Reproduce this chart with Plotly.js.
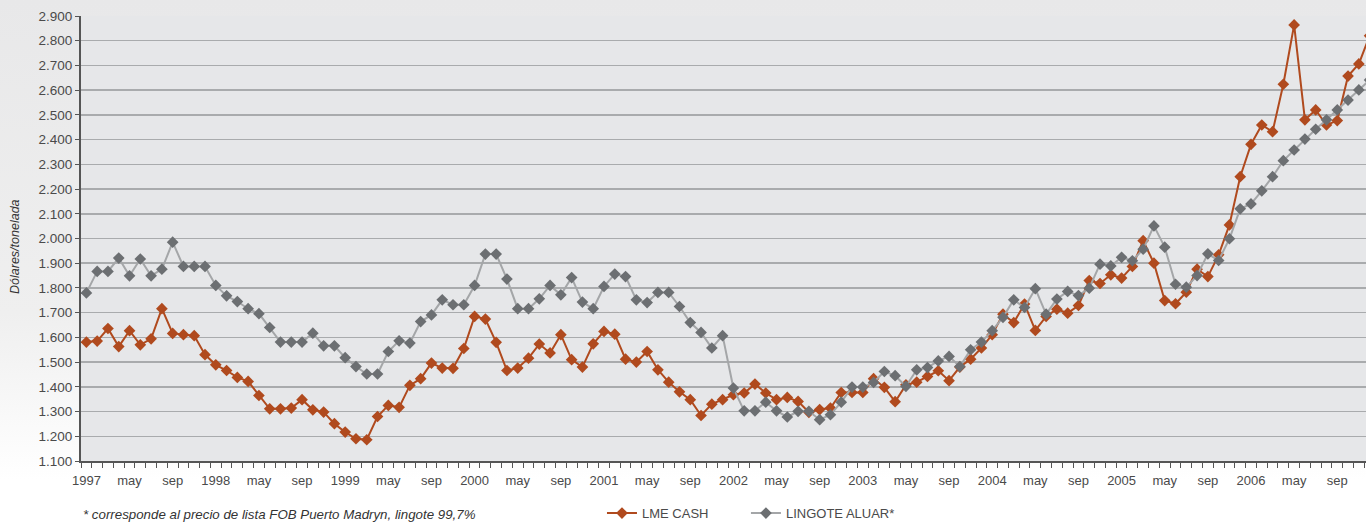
<!DOCTYPE html>
<html>
<head>
<meta charset="utf-8">
<script src="https://cdn.plot.ly/plotly-3.0.1.min.js"></script>
<style>
  html, body { margin: 0; padding: 0; width: 1366px; height: 522px; overflow: hidden;
    background: linear-gradient(to bottom, #e8e8e9 0%, #efefef 60%, #ffffff 92%); }
  #chart { width: 1375px; height: 522px; }
</style>
</head>
<body>
<div id="chart"></div>
<script>
// Months Jan 1997 .. Dec 2006
const years = [1997, 1998, 1999, 2000, 2001, 2002, 2003, 2004, 2005, 2006];
const monthNames = ["ene","feb","mar","abr","may","jun","jul","ago","sep","oct","nov","dic"];
const labeledMonths = ["may", "sep"];

// LME CASH (USD/t)
const lmeCash = [
  1581, 1585, 1636, 1563, 1627, 1570, 1594, 1716, 1616, 1611, 1607, 1530,
  1489, 1466, 1438, 1422, 1365, 1311, 1311, 1314, 1348, 1307, 1298, 1251,
  1217, 1190, 1186, 1280, 1325, 1317, 1406, 1433, 1496, 1476, 1475, 1555,
  1685, 1674, 1580, 1466, 1476, 1516, 1573, 1537, 1611, 1510, 1480, 1574,
  1624, 1613, 1512, 1500, 1543, 1469, 1419, 1380, 1348, 1284, 1330, 1348,
  1368, 1375, 1411, 1375, 1348, 1357, 1341, 1297, 1308, 1314, 1377, 1377,
  1377, 1433, 1398, 1340, 1408, 1419, 1442, 1465, 1425, 1480, 1512, 1557,
  1611, 1694, 1660, 1735, 1628, 1685, 1714, 1698, 1729, 1830, 1818, 1853,
  1840, 1887, 1991, 1900, 1749, 1736, 1783, 1876, 1846, 1934, 2055, 2250,
  2381, 2459, 2432, 2624, 2864, 2480, 2520, 2459, 2477, 2657, 2706, 2820
];

// LINGOTE ALUAR* (USD/t)
const lingoteAluar = [
  1780, 1867, 1867, 1921, 1849, 1917, 1849, 1876, 1985, 1887, 1887, 1887,
  1810, 1768, 1745, 1716, 1696, 1640, 1581, 1581, 1581, 1617, 1566, 1566,
  1518, 1482, 1452, 1452, 1543, 1586, 1577, 1664, 1691, 1752, 1732, 1732,
  1810, 1937, 1937, 1836, 1716, 1716, 1756, 1810, 1772, 1842, 1743, 1716,
  1806, 1856, 1846, 1752, 1741, 1782, 1782, 1725, 1660, 1620, 1557, 1607,
  1395, 1303, 1303, 1338, 1303, 1278, 1301, 1301, 1267, 1287, 1338, 1399,
  1399, 1418, 1462, 1445, 1402, 1469, 1478, 1505, 1523, 1482, 1550, 1581,
  1627, 1681, 1752, 1721, 1797, 1694, 1755, 1786, 1769, 1799, 1896, 1889,
  1924, 1910, 1957, 2051, 1965, 1815, 1803, 1850, 1938, 1911, 1999, 2120,
  2140, 2193, 2250, 2315, 2358, 2402, 2442, 2480, 2520, 2560, 2601, 2641
];

// Build month index and tick labels from the arrays above
const idx = [], hoverLabels = [], tickVals = [], tickText = [];
years.forEach((y, yi) => {
  monthNames.forEach((m, mi) => {
    const k = yi * 12 + mi;
    idx.push(k);
    hoverLabels.push(m + " " + y);
    if (mi === 0) { tickVals.push(k); tickText.push(String(y)); }
    else if (labeledMonths.includes(m)) { tickVals.push(k); tickText.push(m); }
  });
});

const orange = "#b04a1e";
const grayMarker = "#6c6f72";
const grayLine = "#a4a6a8";

const traces = [
  {
    x: idx, y: lmeCash, text: hoverLabels, name: "LME CASH",
    type: "scatter", mode: "lines+markers", legend: "legend",
    line: { color: orange, width: 2 },
    marker: { symbol: "diamond", size: 9, color: orange }
  },
  {
    x: idx, y: lingoteAluar, text: hoverLabels, name: "LINGOTE ALUAR*",
    type: "scatter", mode: "lines+markers", legend: "legend2",
    line: { color: grayLine, width: 2 },
    marker: { symbol: "diamond", size: 9, color: grayMarker }
  }
];

const fontFam = "Liberation Sans, Arial, Helvetica, sans-serif";
const legendFont = { family: fontFam, size: 13, color: "#4a4a4a" };

const layout = {
  width: 1375, height: 522,
  margin: { l: 81, r: 0, t: 16, b: 61, autoexpand: false },
  paper_bgcolor: "rgba(0,0,0,0)",
  plot_bgcolor: "#e6e7e9",
  separators: ",.",
  font: { family: fontFam, size: 13, color: "#4a4a4a" },
  showlegend: true,
  legend: {
    orientation: "h", xref: "container", yref: "container",
    x: 0.4378, xanchor: "left", y: 0.017, yanchor: "middle",
    font: legendFont, bgcolor: "rgba(0,0,0,0)"
  },
  legend2: {
    orientation: "h", xref: "container", yref: "container",
    x: 0.5425, xanchor: "left", y: 0.017, yanchor: "middle",
    font: legendFont, bgcolor: "rgba(0,0,0,0)"
  },
  xaxis: {
    range: [-0.5, 119.5], tickmode: "array", tickvals: tickVals, ticktext: tickText,
    ticks: "outside", ticklen: 6, tickcolor: "rgba(0,0,0,0)",
    showgrid: false, zeroline: false, showline: true, linecolor: "#555", linewidth: 2,
    tickfont: { family: fontFam, size: 13, color: "#4a4a4a" },
    minor: { tickmode: "linear", tick0: -0.5, dtick: 1, ticks: "outside", ticklen: 5, tickcolor: "#555", tickwidth: 1, showgrid: false },
    automargin: false, fixedrange: true
  },
  yaxis: {
    range: [1100, 2900], dtick: 100, tick0: 1100, tickformat: ",d",
    ticks: "outside", ticklen: 4, tickcolor: "#555",
    showgrid: true, gridcolor: "#a9abad", gridwidth: 1.5,
    zeroline: false, showline: true, linecolor: "#555", linewidth: 2,
    tickfont: { family: fontFam, size: 13.5, color: "#4a4a4a" },
    automargin: false, fixedrange: true
  },
  annotations: [
    {
      xref: "paper", yref: "paper", x: -0.051, y: 0.481, xanchor: "center", yanchor: "middle",
      textangle: -90, text: "<i>Dólares/tonelada</i>",
      showarrow: false, font: { family: fontFam, size: 12.5, color: "#333" }
    },
    {
      xref: "paper", yref: "paper", x: 0.0, y: -0.121, xanchor: "left", yanchor: "middle",
      text: "<i>* corresponde al precio de lista FOB Puerto Madryn, lingote 99,7%</i>",
      showarrow: false, font: { family: fontFam, size: 13.3, color: "#333" }
    }
  ]
};

Plotly.newPlot("chart", traces, layout, { displayModeBar: false, staticPlot: true });
</script>
</body>
</html>
